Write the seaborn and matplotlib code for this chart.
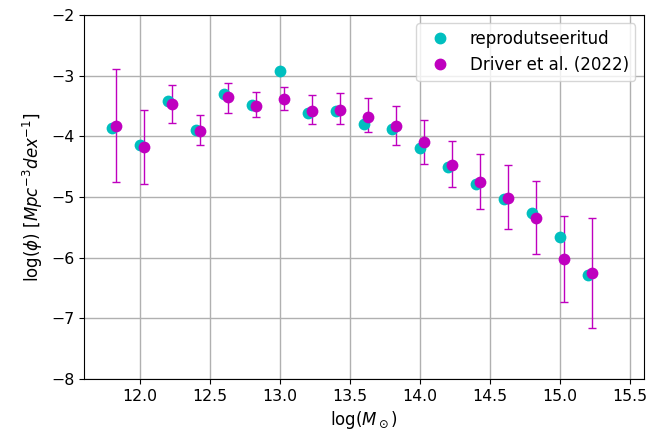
import numpy as np
import pandas as pd
import matplotlib
matplotlib.use("Agg")
import matplotlib.pyplot as plt
from matplotlib.lines import Line2D
import seaborn as sns

# reproduced halo mass function
repro_mass = [11.8, 12.0, 12.2, 12.4, 12.6, 12.8, 13.0, 13.2, 13.4,
              13.6, 13.8, 14.0, 14.2, 14.4, 14.6, 14.8, 15.0, 15.2]
repro_phi = [-3.87, -4.14, -3.42, -3.89, -3.31, -3.48, -2.92, -3.62, -3.58,
             -3.80, -3.88, -4.20, -4.50, -4.79, -5.03, -5.26, -5.66, -6.29]

# Driver et al. (2022)
driver_mass = [11.83, 12.03, 12.23, 12.43, 12.63, 12.83, 13.03, 13.23, 13.43,
               13.63, 13.83, 14.03, 14.23, 14.43, 14.63, 14.83, 15.03, 15.23]
driver_phi = [-3.83, -4.18, -3.47, -3.91, -3.36, -3.50, -3.38, -3.59, -3.57,
              -3.68, -3.83, -4.10, -4.47, -4.75, -5.01, -5.35, -6.02, -6.26]
driver_err_lo = [0.93, 0.60, 0.31, 0.24, 0.25, 0.18, 0.19, 0.21, 0.23,
                 0.25, 0.32, 0.35, 0.37, 0.45, 0.52, 0.59, 0.72, 0.90]
driver_err_hi = [0.94, 0.61, 0.32, 0.26, 0.24, 0.23, 0.19, 0.27, 0.29,
                 0.31, 0.33, 0.37, 0.39, 0.46, 0.53, 0.62, 0.71, 0.92]

labels = ['reprodutseeritud', 'Driver et al. (2022)']

df_repro = pd.DataFrame({'mass': repro_mass, 'phi': repro_phi})
df_driver = pd.DataFrame({'mass': driver_mass, 'phi': driver_phi})

plt.rcParams['font.size'] = 11.3

fig, ax = plt.subplots(figsize=(6.47, 4.41), dpi=100)
fig.subplots_adjust(left=0.130, right=0.995, top=0.966, bottom=0.141)

ax.errorbar(driver_mass, driver_phi, yerr=[driver_err_lo, driver_err_hi],
            fmt='none', ecolor='m', elinewidth=1, capsize=3, capthick=1, zorder=2)
sns.scatterplot(data=df_repro, x='mass', y='phi', color='c', s=72, linewidth=0,
                ax=ax, zorder=3, legend=False)
sns.scatterplot(data=df_driver, x='mass', y='phi', color='m', s=72, linewidth=0,
                ax=ax, zorder=4, legend=False)

ax.set_xlim(11.6, 15.6)
ax.set_ylim(-8, -2)
ax.set_xticks(np.arange(12.0, 15.51, 0.5))
ax.grid(True, color='#b0b0b0', linewidth=1)
ax.set_axisbelow(True)
ax.set_xlabel(r'log($M_\odot$)', fontsize=12)
ax.set_ylabel(r'log($\phi$) [$Mpc^{-3}dex^{-1}$]', fontsize=12)

handles = [Line2D([], [], marker='o', linestyle='', color=c, markersize=7.5)
           for c in ['c', 'm']]
ax.legend(handles, labels, loc='upper right', fontsize=12, handlelength=2)

plt.savefig('out.png', dpi=100)
